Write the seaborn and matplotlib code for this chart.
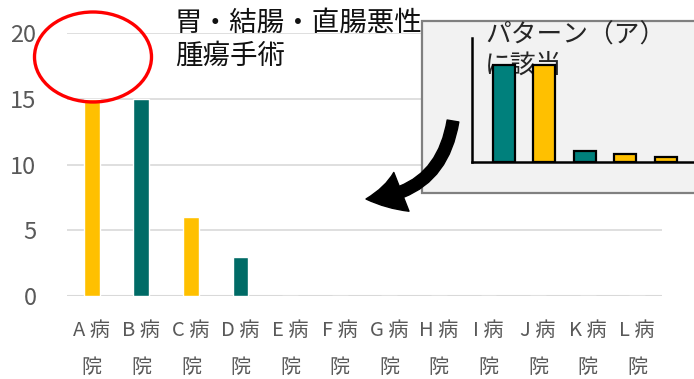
import matplotlib
matplotlib.use("Agg")
import matplotlib.pyplot as plt
import seaborn as sns
from matplotlib.patches import Rectangle, Ellipse, FancyArrowPatch

# ---- data ----
hospitals = ["A病院", "B病院", "C病院", "D病院", "E病院", "F病院",
             "G病院", "H病院", "I病院", "J病院", "K病院", "L病院"]
tick_labels = ["A 病\n院", "B 病\n院", "C 病\n院", "D 病\n院", "E 病\n院", "F 病\n院",
               "G 病\n院", "H 病\n院", "I 病\n院", "J 病\n院", "K 病\n院", "L 病\n院"]
values = [15, 15, 6, 3, 0, 0, 0, 0, 0, 0, 0, 0]
bar_colors = ["#FFC000", "#006B66", "#FFC000", "#006B66", "#FFC000", "#006B66",
              "#FFC000", "#006B66", "#FFC000", "#006B66", "#FFC000", "#006B66"]
yticks = [0, 5, 10, 15, 20]
title = "胃・結腸・直腸悪性\n腫瘍手術"

inset_cats = ["1", "2", "3", "4", "5"]
inset_values = [15.6, 15.6, 1.8, 1.3, 0.8]
inset_colors = ["#00807C", "#FFC000", "#00807C", "#FFC000", "#FFC000"]
inset_title = "パターン（ア）\nに該当"

# ---- style ----
sns.set_theme(style="white")
plt.rcParams['font.family'] = ['Noto Sans CJK JP', 'DejaVu Sans']

W, H = 694, 379
fig = plt.figure(figsize=(W / 100, H / 100), dpi=100)

def fx(px):
    return px / W

def fy(py):
    return 1 - py / H

# main axes
ax = fig.add_axes([fx(67), fy(296), fx(662) - fx(67), fy(33) - fy(296)])
ax.set_zorder(0)
sns.barplot(x=hospitals, y=values, hue=hospitals, palette=bar_colors,
            width=0.32, saturation=1, legend=False, ax=ax, zorder=3)
ax.set_xlim(-0.5, len(hospitals) - 0.5)
ax.set_ylim(0, 20)
ax.set_yticks(yticks)
ax.set_yticklabels([str(v) for v in yticks], fontsize=17, color="#595959")
ax.set_xticks(range(len(hospitals)))
ax.set_xticklabels(tick_labels, fontsize=14.5, color="#595959", linespacing=2.05)
ax.tick_params(axis="y", length=0, pad=22)
ax.tick_params(axis="x", length=0, pad=17)
ax.set_xlabel("")
ax.set_ylabel("")
for s in ax.spines.values():
    s.set_visible(False)
ax.yaxis.grid(True, color="#D9D9D9", lw=1.2)
ax.set_axisbelow(True)
ax.axhline(0, color="#D9D9D9", lw=2.2, zorder=2)

# title
fig.text(fx(175), fy(10), title, fontsize=19.8, color="#111111", va="top", ha="left",
         linespacing=1.3, zorder=1)

# inset frame
rect = Rectangle((fx(422), fy(193)), 1.0, fy(21) - fy(193), transform=fig.transFigure,
                 facecolor="#F2F2F2", edgecolor="#808080", lw=1.6, zorder=2)
fig.patches.append(rect)

fig.text(fx(485), fy(23), inset_title, fontsize=18.5, color="#262626", va="top",
         ha="left", linespacing=1.2, zorder=2.5)

iax = fig.add_axes([fx(472), fy(162), fx(700) - fx(472), fy(38) - fy(162)])
iax.set_zorder(3)
iax.patch.set_alpha(0)
sns.barplot(x=inset_cats, y=inset_values, hue=inset_cats, palette=inset_colors,
            width=0.54, saturation=1, edgecolor="black", linewidth=1.6,
            legend=False, ax=iax)
iax.set_xlim((472 - 504) / 40.4, (700 - 504) / 40.4)
iax.set_ylim(0, 20)
iax.set_xticks([])
iax.set_yticks([])
iax.set_xlabel("")
iax.set_ylabel("")
iax.spines["top"].set_visible(False)
iax.spines["right"].set_visible(False)
iax.spines["left"].set_color("black")
iax.spines["bottom"].set_color("black")
iax.spines["left"].set_linewidth(1.8)
iax.spines["bottom"].set_linewidth(1.8)

# red ellipse
ell = Ellipse((fx(93), fy(57)), fx(117), 90 / H, transform=fig.transFigure,
              fill=False, edgecolor="#FF0000", lw=2.4, zorder=6)
fig.patches.append(ell)

# arrow
arr = FancyArrowPatch((fx(453), fy(121)), (fx(366), fy(199)),
                      transform=fig.transFigure,
                      connectionstyle="arc3,rad=-0.4",
                      arrowstyle="simple,head_length=26,head_width=30,tail_width=8.5",
                      mutation_scale=1, shrinkA=0, shrinkB=0,
                      color="black", zorder=7)
fig.patches.append(arr)

fig.savefig("out.png", dpi=100)
